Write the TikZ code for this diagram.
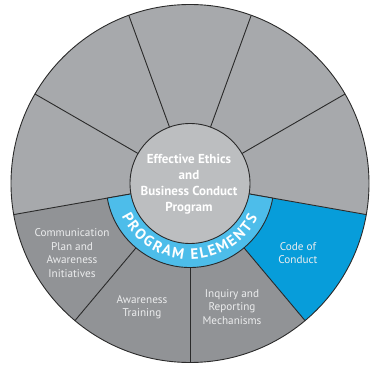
\documentclass[tikz,border=0pt]{standalone}
\usepackage{fontspec}
\setmainfont{PT Sans}
\usetikzlibrary{decorations.text}
\definecolor{lgray}{HTML}{A7A9AC}
\definecolor{dgray}{HTML}{919396}
\definecolor{cgray}{HTML}{BCBEC0}
\definecolor{ringblue}{HTML}{4DBDEA}
\definecolor{codeblue}{HTML}{079DDA}
\definecolor{lbl}{HTML}{ECEDEE}
\definecolor{edge}{HTML}{2A2A2A}
\begin{document}
\begin{tikzpicture}[x=1pt,y=1pt,line join=round,
  spoke/.style={draw=edge,line width=0.9pt},
  label/.style={text=lbl,align=center,font=\fontsize{11.2}{13.4}\selectfont,inner sep=0pt},
  coretext/.style={text=white,align=center,font=\bfseries\fontsize{13}{16}\selectfont,inner sep=0pt}]
\useasboundingbox (0,0) rectangle (373,365);
\coordinate (c) at (190,181.5);
\def\R{179}
% sectors
\foreach \a/\col in {-90/dgray,-50/codeblue,-10/lgray,30/lgray,70/lgray,110/lgray,150/lgray,190/dgray,230/dgray}
  \fill[\col] (c) -- ++(\a:\R) arc[start angle=\a, delta angle=40, radius=\R] -- cycle;
% spokes
\foreach \a in {-90,-50,-10,30,70,110,150,190,230}
  \draw[spoke] (c) -- ++(\a:\R);
% outer outline
\draw[spoke] (c) circle[radius=\R];
% blue ring
\draw[spoke,fill=ringblue] (c) ++(190:84) arc[start angle=190, end angle=350, radius=84] -- (c) -- cycle;
% inner circle
\draw[spoke,fill=cgray] (c) circle[radius=60];
% ring text
\path[decorate,decoration={text along path,text align=fit to path,
  text={|\bfseries\fontsize{15}{15}\selectfont\color{white}|PROGRAM ELEMENTS}}]
  (c) ++(206:76) arc[start angle=206, end angle=333, radius=76];
% texts
\node[coretext] (core) at (189,180.5) {Effective Ethics\\and\\Business Conduct\\Program};
\node[label] (comm) at (72,112) {Communication\\Plan and\\Awareness\\Initiatives};
\node[label] (train) at (142,58) {Awareness\\Training};
\node[label] (inq) at (232,58) {Inquiry and\\Reporting\\Mechanisms};
\node[label] (code) at (298,112) {Code of\\Conduct};
\end{tikzpicture}
\end{document}
